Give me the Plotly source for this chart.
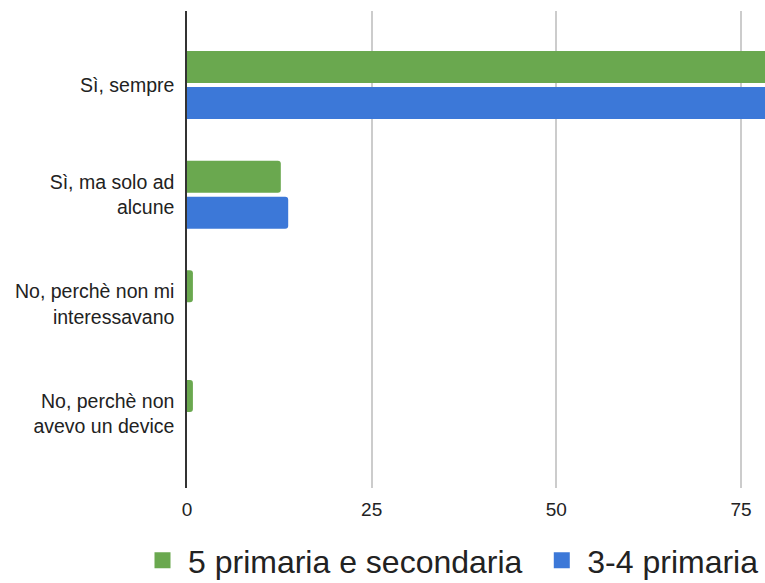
import plotly.graph_objects as go

categories = [
    "Sì, sempre",
    "Sì, ma solo ad<br>alcune",
    "No, perchè non mi<br>interessavano",
    "No, perchè non<br>avevo un device",
]
series_names = ["5 primaria e secondaria\u00a0", "3-4 primaria"]
values_5_sec = [86.3, 12.7, 0.8, 0.8]
values_3_4 = [85.6, 13.7, 0, 0]
x_ticks = [0, 25, 50, 75]

colors = ["#6aa84f", "#3c78d8"]
font_family = "Arial, Liberation Sans, sans-serif"

fig = go.Figure()
for name, vals, col in zip(series_names, [values_5_sec, values_3_4], colors):
    fig.add_trace(
        go.Bar(
            y=categories,
            x=vals,
            orientation="h",
            name=name,
            showlegend=False,
            marker={"color": col, "line": {"width": 0}, "cornerradius": 3},
        )
    )
# legend entries with a larger square swatch
for name, col in zip(series_names, colors):
    fig.add_trace(
        go.Scatter(
            x=[None],
            y=[None],
            mode="markers",
            name=name,
            marker={"symbol": "square", "size": 16, "color": col},
        )
    )

fig.update_layout(
    width=765,
    height=583,
    barmode="group",
    bargap=0.344,
    bargroupgap=0.11,
    paper_bgcolor="white",
    plot_bgcolor="white",
    font={"family": font_family, "color": "#222222"},
    margin={"l": 187, "r": 0, "t": 11, "b": 95, "autoexpand": False},
    showlegend=True,
    legend={
        "orientation": "h",
        "x": -0.0865,
        "xanchor": "left",
        "y": -0.094,
        "yanchor": "top",
        "itemwidth": 41,
        "font": {"size": 32, "color": "#222222"},
        "traceorder": "normal",
    },
)
fig.update_xaxes(
    range=[0, 78.25],
    tickvals=x_ticks,
    ticktext=[str(t) for t in x_ticks],
    showgrid=True,
    gridcolor="#cccccc",
    gridwidth=1.5,
    zeroline=False,
    showline=False,
    ticks="outside",
    ticklen=4,
    tickcolor="rgba(0,0,0,0)",
    tickfont={"size": 19, "color": "#222222"},
)
fig.update_yaxes(
    range=[3.675, -0.675],
    showgrid=False,
    zeroline=False,
    showline=True,
    linecolor="#333333",
    linewidth=1.5,
    ticks="outside",
    ticklen=7,
    tickcolor="rgba(0,0,0,0)",
    tickfont={"size": 19.5, "color": "#222222"},
)

# drop the default 8px body margin so the figure fills the window
fig.write_html(
    "out.html",
    config={"displayModeBar": False},
    post_script="document.body.style.margin = '0';",
)
